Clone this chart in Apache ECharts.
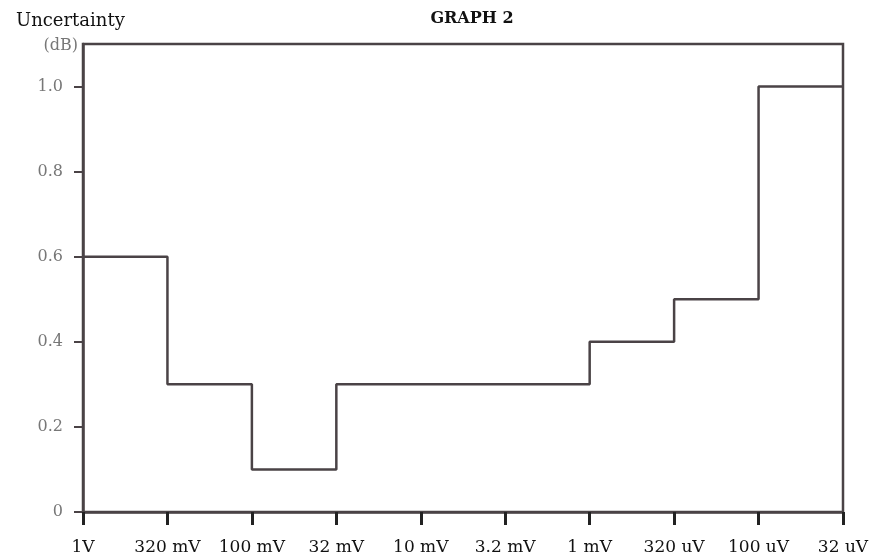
<!DOCTYPE html>
<html>
<head>
<meta charset="utf-8">
<script src="https://cdn.jsdelivr.net/npm/echarts@6/dist/echarts.min.js"></script>
<style>
  html, body { margin: 0; padding: 0; background: #fff; }
  #chart { width: 875px; height: 560px; }
</style>
</head>
<body>
<div id="chart"></div>
<script>
// input levels along the x axis
const levels = ["1V", "320 mV", "100 mV", "32 mV", "10 mV", "3.2 mV", "1 mV", "320 uV", "100 uV", "32 uV"];
// uncertainty (dB), held from each level to the next one
const uncertainty = [0.6, 0.3, 0.1, 0.3, 0.3, 0.3, 0.4, 0.5, 1.0, 1.0];
const yTicks = [0, 0.2, 0.4, 0.6, 0.8, 1.0];

const lineColor = "#4a4346";
const font = "DejaVu Serif";

const chart = echarts.init(document.getElementById("chart"));
chart.setOption({
  backgroundColor: "#ffffff",
  animation: false,
  title: [
    {
      text: "Uncertainty",
      left: 11,
      top: 7,
      textStyle: { fontFamily: font, fontSize: 18, fontWeight: "normal", color: "#111" },
    },
    {
      text: "GRAPH 2",
      left: 467,
      top: 6,
      textAlign: "center",
      textStyle: { fontFamily: font, fontSize: 16, fontWeight: "bold", color: "#111" },
    },
  ],
  grid: {
    left: 83,
    right: 32,
    top: 44,
    bottom: 48,
    show: true,
    borderColor: lineColor,
    borderWidth: 2.5,
    backgroundColor: "#ffffff",
  },
  xAxis: {
    type: "category",
    data: levels,
    boundaryGap: false,
    axisLine: { lineStyle: { color: lineColor, width: 2.5 } },
    axisTick: { show: true, interval: 0, length: 13, lineStyle: { color: "#222", width: 3 } },
    axisLabel: { interval: 0, hideOverlap: false, fontFamily: font, fontSize: 17, color: "#111", margin: 27 },
    splitLine: { show: false },
  },
  yAxis: {
    type: "value",
    min: 0,
    max: 1.1,
    interval: 0.2,
    name: "(dB)",
    nameLocation: "end",
    nameGap: -2,
    nameTextStyle: {
      fontFamily: font,
      fontSize: 16,
      color: "#777",
      align: "right",
      verticalAlign: "middle",
      padding: [0, 5, 0, 0],
    },
    axisLine: { show: true, lineStyle: { color: lineColor, width: 2.5 } },
    axisTick: { show: true, length: 9, lineStyle: { color: lineColor, width: 2 } },
    axisLabel: {
      fontFamily: font,
      fontSize: 16,
      color: "#777",
      margin: 20,
      showMaxLabel: false,
      formatter: (v) => {
        const t = yTicks.find((k) => Math.abs(k - v) < 1e-6);
        if (t === undefined) return "";
        return t === 0 ? "0" : t.toFixed(1);
      },
    },
    splitLine: { show: false },
  },
  series: [
    {
      type: "line",
      step: "end",
      data: uncertainty,
      symbol: "none",
      lineStyle: { color: lineColor, width: 2.5 },
    },
  ],
});
</script>
</body>
</html>
